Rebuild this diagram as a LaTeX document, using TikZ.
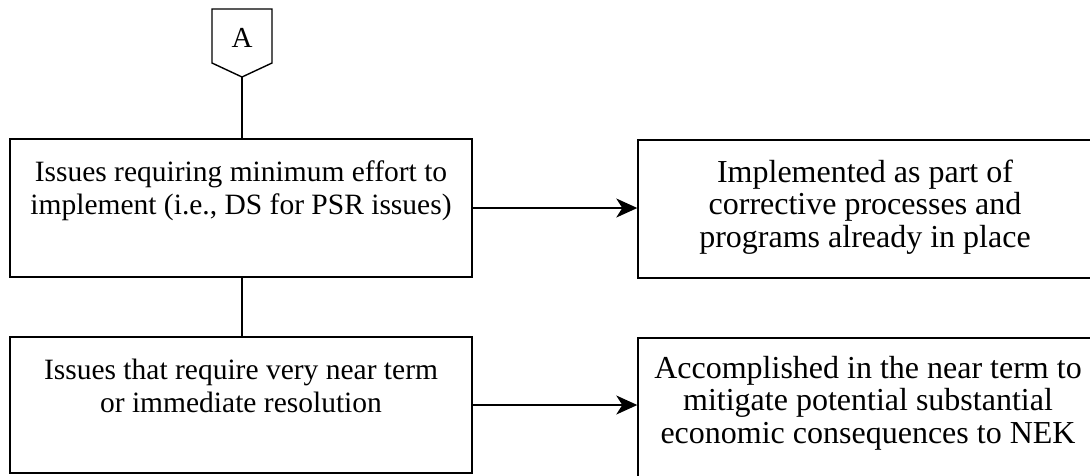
\documentclass[tikz,border=0pt]{standalone}
\usepackage{fontspec}
\setmainfont{Liberation Serif}
\usetikzlibrary{arrows.meta}
\begin{document}
\begin{tikzpicture}[x=1pt,y=-1pt,
  boxshape/.style={draw, line width=1.4pt, rectangle, inner sep=0pt},
  lefttext/.style={align=center, inner sep=0pt, font=\fontsize{29.5}{33}\selectfont},
  righttext/.style={align=center, inner sep=0pt, font=\fontsize{32}{32.5}\selectfont},
  conn/.style={line width=1.4pt},
  arr/.style={line width=1.4pt, -{Stealth[length=21pt, width=19pt, inset=6pt]}}]
\useasboundingbox (0,0) rectangle (1090,475);
% off-page connector
\draw[line width=1.4pt] (212,9) -- (272,9) -- (272,63) -- (242,77) -- (212,63) -- cycle;
\node[font=\fontsize{29}{34}\selectfont, inner sep=0pt] (A) at (242,38) {A};
\coordinate (Atip) at (242,77);
% boxes
\node[boxshape, minimum width=462pt, minimum height=138pt] (b1) at (241,208) {};
\node[boxshape, minimum width=456pt, minimum height=138pt] (b2) at (866,209) {};
\node[boxshape, minimum width=462pt, minimum height=136pt] (b3) at (241,405) {};
\node[boxshape, minimum width=456pt, minimum height=142pt] (b4) at (866,409) {};
% texts
\node[lefttext] (t1) at (241,191) {Issues requiring minimum effort to\\implement (i.e., DS for PSR issues)};
\node[righttext] (t2) at (865,207) {Implemented as part of\\corrective processes and\\programs already in place};
\node[lefttext] (t3) at (241,386) {Issues that require very near term\\or immediate resolution};
\node[righttext] (t4) at (868,403) {Accomplished in the near term to\\mitigate potential substantial\\economic consequences to NEK};
% connectors
\draw[conn] (Atip) -- (Atip |- b1.north);
\draw[conn] (b1.south -| Atip) -- (b3.north -| Atip);
\draw[arr] (b1.east) -- (b1.east -| b2.west);
\draw[arr] (b3.east) -- (b3.east -| b4.west);
\end{tikzpicture}
\end{document}
